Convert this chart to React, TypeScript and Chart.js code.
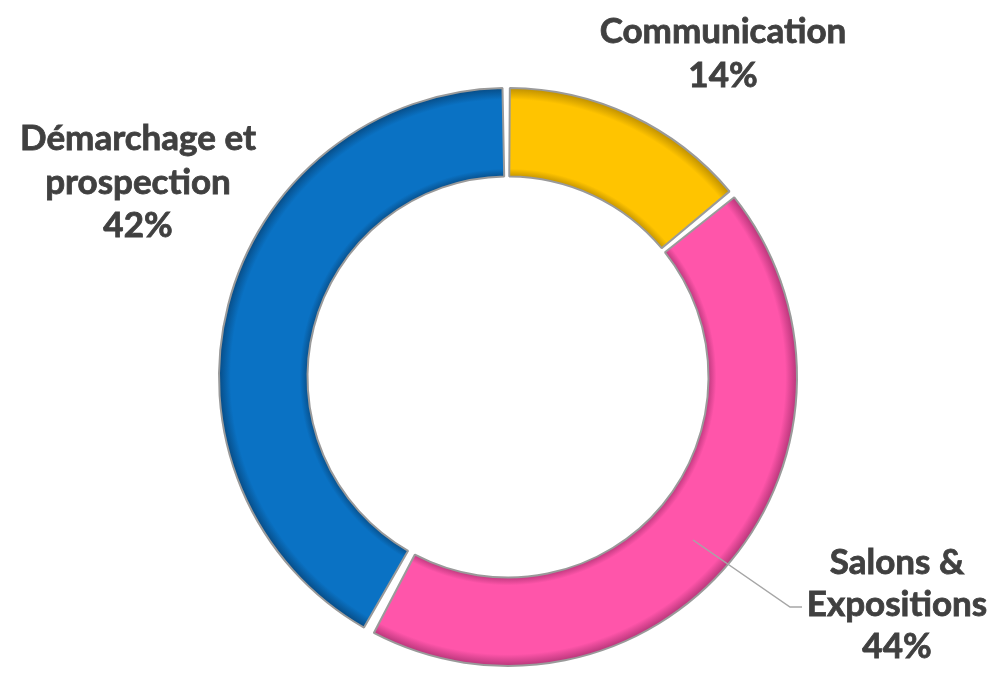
import React, { useEffect, useRef } from "react";
import { Chart, registerables } from "chart.js";

Chart.register(...registerables);

const categories: string[][] = [["Communication"], ["Salons &", "Expositions"], ["Démarchage et", "prospection"]];
const values: number[] = [14, 44, 42];
const baseColors: string[] = ["#FFC400", "#FF55AA", "#0A72C4"];
const edgeColors: string[] = ["#BF9000", "#B8367A", "#074C86"];

const CUTOUT = 0.69;

const labelPlugin = {
  id: "labelPlugin",
  afterDraw(chart: any) {
    const ctx = chart.ctx as CanvasRenderingContext2D;
    const area = chart.chartArea;
    const cx = (area.left + area.right) / 2;
    const cy = (area.top + area.bottom) / 2;
    const total = values.reduce((a, b) => a + b, 0);
    const layout = [
      { dx: 215, dy: [-334, -290] },
      { dx: 389, dy: [197, 239, 281] },
      { dx: -370, dy: [-227, -183, -140] },
    ];
    ctx.save();
    ctx.strokeStyle = "#A6A6A6";
    ctx.lineWidth = 1.5;
    ctx.beginPath();
    ctx.moveTo(cx + 185, cy + 163);
    ctx.lineTo(cx + 282, cy + 230);
    ctx.lineTo(cx + 294, cy + 230);
    ctx.stroke();

    ctx.fillStyle = "#404040";
    ctx.font = "bold 35px Lato";
    ctx.textAlign = "center";
    ctx.textBaseline = "alphabetic";
    ctx.strokeStyle = "#404040";
    ctx.lineWidth = 0.8;
    categories.forEach((lines, i) => {
      const pct = Math.round((values[i] / total) * 100) + "%";
      const all = [...lines, pct];
      all.forEach((t, j) => {
        ctx.fillText(t, cx + layout[i].dx, cy + layout[i].dy[j]);
        ctx.strokeText(t, cx + layout[i].dx, cy + layout[i].dy[j]);
      });
    });
    ctx.restore();
  },
};

export default function App() {
  const ref = useRef<HTMLCanvasElement | null>(null);
  useEffect(() => {
    document.body.style.margin = "0";
    if (!ref.current) return;
    const chart = new Chart(ref.current, {
      type: "doughnut",
      data: {
        labels: categories.map((c) => c.join(" ")),
        datasets: [
          {
            data: values,
            backgroundColor: (c: any) => {
              const chart = c.chart;
              const a = chart.chartArea;
              const i = c.dataIndex;
              if (!a) return baseColors[i];
              const x = (a.left + a.right) / 2;
              const y = (a.top + a.bottom) / 2;
              const outer = Math.min(a.right - a.left, a.bottom - a.top) / 2 - 1;
              const inner = outer * CUTOUT;
              const g = chart.ctx.createRadialGradient(x, y, inner, x, y, outer);
              g.addColorStop(0, edgeColors[i]);
              g.addColorStop(0.1, baseColors[i]);
              g.addColorStop(0.87, baseColors[i]);
              g.addColorStop(1, edgeColors[i]);
              return g;
            },
            borderColor: "#9A9A9A",
            borderWidth: 2,
            spacing: 7,
          },
        ],
      },
      options: {
        responsive: true,
        maintainAspectRatio: false,
        animation: false,
        cutout: CUTOUT * 100 + "%",
        layout: { padding: { left: 217, right: 193, top: 87, bottom: 9 } },
        plugins: {
          legend: { display: false },
          tooltip: { enabled: false },
        },
      },
      plugins: [labelPlugin],
    });
    return () => chart.destroy();
  }, []);
  return (
    <div style={{ position: "relative", width: 992, height: 676, background: "#fff" }}>
      <canvas ref={ref} />
    </div>
  );
}
